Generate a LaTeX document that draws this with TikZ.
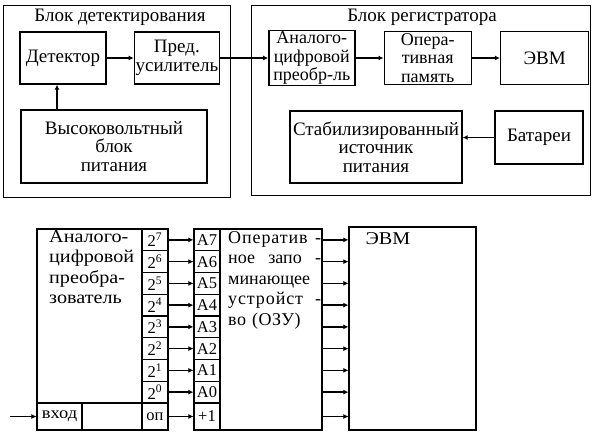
\documentclass[tikz,border=0pt]{standalone}
\usepackage{fontspec}
\setmainfont{Liberation Serif}
\newfontfamily\shirokij[FakeStretch=1.12]{Liberation Serif}
\usetikzlibrary{positioning,arrows.meta}

\begin{document}
\begin{tikzpicture}[
    x=1pt, y=-1pt,
    node distance=27pt and 27pt,
    blok/.style={draw,line width=1.4pt,inner sep=1pt,align=center,font=\fontsize{19}{18.5}\selectfont},
    ramka/.style={draw,line width=0.8pt},
    cell/.style={draw,line width=1.2pt,minimum width=26pt,minimum height=21.75pt,inner sep=0pt,font=\fontsize{16.5}{17}\selectfont},
    txt/.style={inner sep=0pt,align=left,font=\fontsize{18}{20.5}\selectfont},
    strel/.style={line width=1.4pt,-{Latex[length=5pt,width=5pt]}}
    ]
    \useasboundingbox (0,0) rectangle (598,438);

    % upper scheme
    \draw[ramka] (3,5) rectangle (230,197);
    \draw[ramka] (251,5) rectangle (590,195);
    \node[font=\fontsize{19}{19}\selectfont] (tdet) at (120,17) {Блок детектирования};
    \node[font=\fontsize{19}{19}\selectfont] (treg) at (422,17) {Блок регистратора};

    \node[blok, minimum width=86pt, minimum height=52pt] (det) at (63,58) {Детектор};
    \node[blok, minimum width=85pt, minimum height=52pt, right=27pt of det] (pre) {Пред.\\усилитель};
    \node[blok, minimum width=186pt, minimum height=73pt] (hv) at (114,146.5) {Высоковольтный\\блок\\питания};

    \node[blok, minimum width=86pt, minimum height=53pt, right=48pt of pre,
          font=\fontsize{18}{18.5}\selectfont] (adc) {Аналого-\\цифровой\\преобр-ль};
    \node[blok, minimum width=87pt, minimum height=53pt, right=28pt of adc,
          font=\fontsize{18}{18.5}\selectfont] (ram) {Опера-\\тивная\\память};
    \node[blok, minimum width=88pt, minimum height=53pt, right=28pt of ram] (evm) {ЭВМ};
    \node[blok, minimum width=172pt, minimum height=72pt] (stab) at (376,147) {Стабилизированный\\источник\\питания};
    \node[blok, minimum width=88pt, minimum height=53pt] (bat) at (539,137.5) {Батареи};

    \draw[strel] (det) -- (pre);
    \draw[strel] (pre) -- (adc);
    \draw[strel] (adc) -- (ram);
    \draw[strel] (ram) -- (evm);
    \draw[strel] (bat.west) -- (bat.west -| stab.east);
    \draw[strel] ([xshift=-6pt]det.south |- hv.north) -- ([xshift=-6pt]det.south);

    % lower scheme
    \node[cell, minimum width=105pt, minimum height=174pt] (acp) at (89.5,316) {};
    \node[txt, anchor=north west, font=\shirokij\fontsize{18}{20.5}\selectfont] (acptxt) at (49,230)
        {Аналого-\\цифровой\\преобра-\\зователь};
    \node[cell, minimum width=102pt, minimum height=201pt] (ozu) at (271,329.5) {};
    \node[txt, anchor=north west, text width=93pt] (ozutxt) at (228,231)
        {\mbox{\addfontfeature{LetterSpace=5}Оператив}\hfill-\\ное\hfill запо\hfill-\\минающее\\\mbox{\addfontfeature{LetterSpace=5}устройст}\hfill-\\\mbox{\addfontfeature{LetterSpace=3}во (ОЗУ)}};
    \node[cell, minimum width=127pt, minimum height=203pt] (evm2) at (412.5,328.5) {};
    \node[txt, font=\shirokij\fontsize{18}{20.5}\selectfont] (evmtxt) at (388,239) {ЭВМ};

    \foreach \i in {0,...,7} {
        \pgfmathsetmacro\yy{229+(7-\i)*21.75+10.875}
        \node[cell] (b\i) at (155,\yy) {2\textsuperscript{\i}};
        \node[cell] (a\i) at (207,\yy) {A\i};
        \draw[strel] (b\i) -- (a\i);
        \draw[strel] (ozu.east |- a\i) -- (evm2.west |- a\i);
    }

    \node[cell, minimum height=27pt] (op) at (155,416.5) {оп};
    \node[cell, minimum height=27pt] (plus) at (207,416.5) {+1};
    \node[cell, minimum width=45pt, minimum height=27pt, font=\shirokij\fontsize{16.5}{17}\selectfont] (vhod) at (59.5,416.5) {вход};
    \node[cell, minimum width=60pt, minimum height=27pt] (pust) at (112,416.5) {};
    \coordinate (vx) at (10,416.5);

    \draw[strel] (vx) -- (vhod);
    \draw[strel] (op) -- (plus);
    \draw[strel] (ozu.east |- plus) -- (evm2.west |- plus);
\end{tikzpicture}
\end{document}
